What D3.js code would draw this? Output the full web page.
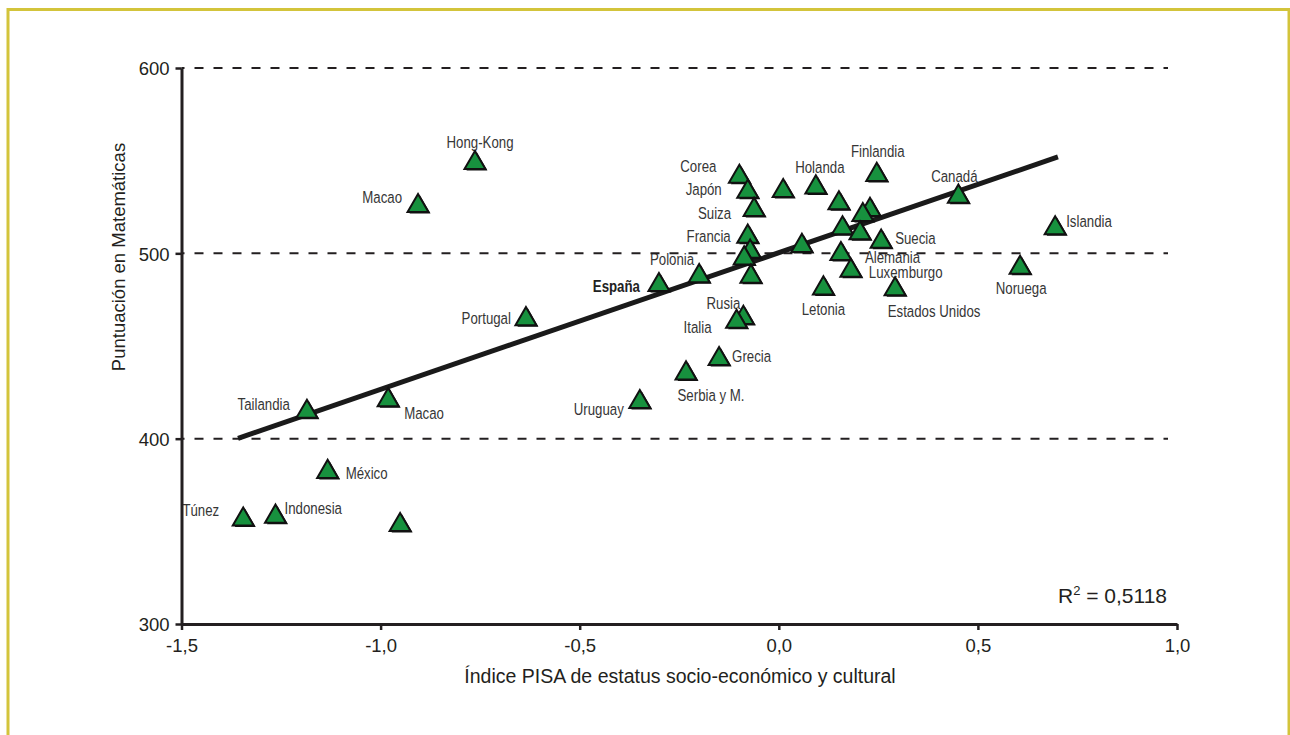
<!DOCTYPE html>
<html>
<head>
<meta charset="utf-8">
<script src="https://cdn.jsdelivr.net/npm/d3@7"></script>
<style>
  html, body { margin: 0; padding: 0; background: #fff; }
  svg { display: block; }
</style>
</head>
<body>
<svg id="chart" width="1290" height="735"></svg>
<script>
// ---------- data ----------
const countries = ["Hong-Kong","Macao","Portugal","España","Polonia","Tailandia","Macao (2)","México","Túnez","Indonesia","(s/n 1)",
  "Uruguay","Serbia y M.","Grecia","Rusia","Italia","Corea","Japón","Suiza","(s/n 2)","Holanda","Finlandia","(s/n 3)","(s/n 4)","(s/n 5)",
  "Francia","(s/n 6)","(s/n 7)","(s/n 8)","(s/n 9)","(s/n 10)","(s/n 11)","Suecia","Alemania","Luxemburgo","Letonia","Estados Unidos",
  "Canadá","Islandia","Noruega"];
const escs = [-0.763,-0.906,-0.635,-0.301,-0.200,-1.185,-0.981,-1.133,-1.345,-1.264,-0.951,
  -0.349,-0.233,-0.150,-0.089,-0.106,-0.099,-0.078,-0.062,0.011,0.093,0.246,0.151,0.229,0.211,
  -0.078,-0.072,-0.087,-0.070,0.058,0.160,0.204,0.257,0.156,0.181,0.112,0.292,
  0.451,0.694,0.606];
const math = [548.7,525.5,464.5,482.9,487.7,414.5,420.8,382.1,356.4,357.9,353.4,
  419.8,435.2,443.0,465.2,463.1,541.3,533.2,523.4,533.6,535.6,542.3,527.0,523.4,520.7,
  509.0,500.9,497.3,487.4,504.0,513.5,510.8,506.3,499.6,490.6,481.1,480.6,
  530.6,513.5,492.2];
const trendX = [-1.358, 0.701];
const trendY = [400.2, 552.0];
const xTicks = [-1.5,-1.0,-0.5,0,0.5,1.0];
const yTicks = [300,400,500,600];
const gridValues = [400,500,600];
const xTitle = "Índice PISA de estatus socio-económico y cultural";
const yTitle = "Puntuación en Matemáticas";
const r2Text = "0,5118";

// label placement (layout only): name -> [anchor, dx, dy]
const labelPlacement = {
  "Hong-Kong":["middle",5,-15], "Macao":["end",-16,-3], "Portugal":["end",-15,5], "España":["end",-19,7],
  "Polonia":["end",-5,-11], "Tailandia":["end",-17,-2], "Macao (2)":["start",16,19], "México":["start",18,7],
  "Túnez":["end",-24,-3], "Indonesia":["start",9,-3], "Uruguay":["end",-16,13], "Serbia y M.":["middle",25,28],
  "Grecia":["start",13,3], "Rusia":["end",-3,-9], "Italia":["end",-25,11], "Corea":["end",-23,-5],
  "Japón":["end",-26,3], "Suiza":["end",-23,9], "Holanda":["middle",4,-14], "Finlandia":["middle",1,-18],
  "Francia":["end",-17,5], "Suecia":["start",14,2], "Alemania":["start",24,9], "Luxemburgo":["start",18,7],
  "Letonia":["middle",0,27], "Estados Unidos":["middle",39,28], "Canadá":["middle",-4,-15],
  "Islandia":["start",11,-1], "Noruega":["middle",1,26]
};

// ---------- drawing ----------
const svg = d3.select("#chart");
const x = d3.scaleLinear().domain([-1.5, 1.0]).range([181.5, 1177]);
const y = d3.scaleLinear().domain([300, 600]).range([624, 68]);
const ink = "#231f20";
const sans = "'Liberation Sans', Arial, Helvetica, sans-serif";
const locale = d3.formatLocale({decimal: ",", thousands: ".", grouping: [3], currency: ["", "€"], minus: "-"});
const fmt1 = locale.format(".1f");
const pts = countries.map((c, i) => ({name: c, ex: escs[i], m: math[i]}));

// outer frame
svg.append("rect").attr("x", 8).attr("y", 9.5).attr("width", 1281).attr("height", 740)
  .attr("fill", "none").attr("stroke", "#d3c43b").attr("stroke-width", 3);

// point labels (condensed look via horizontal scaling)
svg.append("g").selectAll("text").data(pts.filter(d => labelPlacement[d.name])).join("text")
  .attr("transform", d => `translate(${x(d.ex) + labelPlacement[d.name][1]},${y(d.m) + labelPlacement[d.name][2]}) scale(0.78,1)`)
  .attr("text-anchor", d => labelPlacement[d.name][0])
  .style("font-family", sans)
  .style("font-size", "17px")
  .style("font-weight", d => d.name === "España" ? "bold" : "normal")
  .attr("fill", d => d.name === "España" ? "#222" : "#363636")
  .text(d => d.name.replace(" (2)", ""));

// dashed gridlines
svg.append("g").selectAll("line").data(gridValues).join("line")
  .attr("x1", x(-1.5)).attr("x2", 1168)
  .attr("y1", d => y(d)).attr("y2", d => y(d))
  .attr("stroke", ink).attr("stroke-width", 2).attr("stroke-dasharray", "9,10")
  .attr("stroke-dashoffset", -13);

// axes
const xAxis = svg.append("g").attr("transform", `translate(0,${y(300)})`)
  .call(d3.axisBottom(x).tickValues(xTicks).tickFormat(fmt1).tickSize(6).tickSizeOuter(0).tickPadding(9));
const yAxis = svg.append("g").attr("transform", `translate(${x(-1.5)},0)`)
  .call(d3.axisLeft(y).tickValues(yTicks).tickFormat(d3.format("d")).tickSize(6).tickSizeOuter(0).tickPadding(6));
[xAxis, yAxis].forEach(g => {
  g.select(".domain").attr("stroke", ink).attr("stroke-width", 3);
  g.selectAll(".tick line").attr("stroke", ink).attr("stroke-width", 2.5);
  g.selectAll(".tick text").attr("fill", ink)
    .style("font-family", sans).style("font-size", "18.5px");
});
yAxis.selectAll(".tick text").attr("dy", "0.36em");

// axis titles
svg.append("text").attr("x", 680).attr("y", 683).attr("text-anchor", "middle")
  .style("font-family", sans).style("font-size", "19.5px")
  .attr("fill", ink).text(xTitle);
svg.append("text").attr("transform", "translate(125,257) rotate(-90)").attr("text-anchor", "middle")
  .style("font-family", sans).style("font-size", "18.5px")
  .attr("fill", ink).text(yTitle);

// R² annotation
const r2 = svg.append("text").attr("x", 1167).attr("y", 603).attr("text-anchor", "end")
  .style("font-family", sans).style("font-size", "21px").attr("fill", ink);
r2.append("tspan").text("R");
r2.append("tspan").attr("dy", -8).style("font-size", "13px").text("2");
r2.append("tspan").attr("dy", 8).text(" = " + r2Text);

// trend line
svg.append("path")
  .datum(trendX.map((v, i) => [v, trendY[i]]))
  .attr("d", d3.line().x(d => x(d[0])).y(d => y(d[1])))
  .attr("stroke", "#1a1a1a").attr("stroke-width", 5).attr("fill", "none");

// points
const tri = d3.symbol().type(d3.symbolTriangle).size(190);
const pg = svg.append("g").selectAll("g").data(pts).join("g")
  .attr("transform", d => `translate(${x(d.ex)},${y(d.m)})`);
pg.append("path").attr("d", tri).attr("transform", "translate(2,1.5)").attr("fill", "#111");
pg.append("path").attr("d", tri).attr("fill", "#17913e").attr("stroke", "#111").attr("stroke-width", 2)
  .attr("stroke-linejoin", "miter");
</script>
</body>
</html>
